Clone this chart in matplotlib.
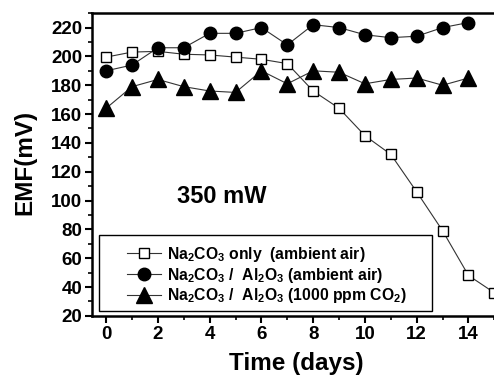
import matplotlib
matplotlib.use("Agg")
import matplotlib.pyplot as plt
from matplotlib.patches import Rectangle
from matplotlib.ticker import MultipleLocator

plt.rcParams['font.family'] = ['Liberation Sans', 'DejaVu Sans']
plt.rcParams['font.weight'] = 'bold'
plt.rcParams['mathtext.fontset'] = 'custom'
plt.rcParams['mathtext.rm'] = 'Liberation Sans:bold'
plt.rcParams['mathtext.default'] = 'rm'

days_sq = [0, 1, 2, 3, 4, 5, 6, 7, 8, 9, 10, 11, 12, 13, 14, 15]
na2co3_only = [199.5, 203, 203.5, 201.5, 201, 199.5, 198, 195, 176, 164, 145, 132, 106, 79, 48, 36]

days = [0, 1, 2, 3, 4, 5, 6, 7, 8, 9, 10, 11, 12, 13, 14]
al2o3_air = [190, 194, 206, 206, 216, 216, 220, 208, 222, 220, 215, 213, 214, 220, 223.5]
al2o3_co2 = [164, 179, 184, 179, 176, 175, 190, 181, 190, 189, 181, 184, 185, 180, 185]

labels = [r"Na$_{2}$CO$_{3}$ only  (ambient air)",
          r"Na$_{2}$CO$_{3}$ /  Al$_{2}$O$_{3}$ (ambient air)",
          r"Na$_{2}$CO$_{3}$ /  Al$_{2}$O$_{3}$ (1000 ppm CO$_{2}$)"]

fig = plt.figure(figsize=(4.94, 3.76), dpi=100)
ax = fig.add_axes([0.186, 0.160, 0.82, 0.805])

line_kw = dict(color='#333333', lw=0.8, markeredgecolor='black')
ax.plot(days_sq, na2co3_only, marker='s', markersize=7.5, markerfacecolor='white',
        markeredgewidth=1.0, label=labels[0], clip_on=False, **line_kw)
ax.plot(days, al2o3_air, marker='o', markersize=9, markerfacecolor='black',
        label=labels[1], **line_kw)
ax.plot(days, al2o3_co2, marker='^', markersize=11, markerfacecolor='black',
        label=labels[2], **line_kw)

ax.set_xlim(-0.55, 15.1)
ax.set_ylim(20, 230)
ax.xaxis.set_major_locator(MultipleLocator(2))
ax.xaxis.set_minor_locator(MultipleLocator(1))
ax.yaxis.set_major_locator(MultipleLocator(20))
ax.yaxis.set_minor_locator(MultipleLocator(10))
ax.tick_params(which='major', direction='out', length=5, width=1.5, labelsize=13.5, pad=2)
ax.tick_params(which='minor', direction='out', length=3, width=1.2)
for lab in ax.get_xticklabels() + ax.get_yticklabels():
    lab.set_fontweight('bold')

for s in ['left', 'bottom', 'top']:
    ax.spines[s].set_linewidth(1.8)
ax.spines['right'].set_visible(False)

ax.set_xlabel("Time (days)", fontsize=17.5, fontweight='bold')
ax.set_ylabel("EMF(mV)", fontsize=17.5, fontweight='bold')
ax.xaxis.set_label_coords(0.504, -0.118)
ax.yaxis.set_label_coords(-0.138, 0.508)

ax.text(2.73, 98, "350 mW", fontsize=17, fontweight='bold')

# legend frame drawn separately so the padding matches
ax.add_patch(Rectangle((0.017, 0.0165), 0.823, 0.2505, transform=ax.transAxes,
                       facecolor='white', edgecolor='black', lw=1.0, zorder=4))
leg = ax.legend(loc='upper left', bbox_to_anchor=(0.086, 0.235), fontsize=11.3,
                frameon=False, handlelength=2.2, handletextpad=0.35,
                labelspacing=0.12, borderpad=0, borderaxespad=0)
leg.set_zorder(5)
for t in leg.get_texts():
    t.set_fontweight('bold')

fig.savefig("out.png", dpi=100)
